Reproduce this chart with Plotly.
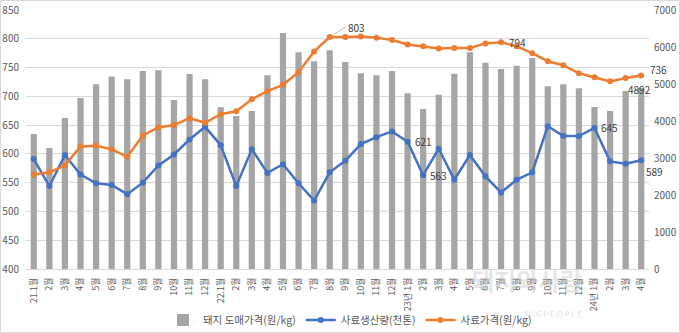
import plotly.graph_objects as go

# Month labels (Jan 2021 - Apr 2024)
month_labels = (
    ["21.1월"] + [f"{m}월" for m in range(2, 13)]
    + ["22.1월"] + [f"{m}월" for m in range(2, 13)]
    + ["23년 1월"] + [f"{m}월" for m in range(2, 13)]
    + ["24년 1월", "2월", "3월", "4월"]
)

# Pork wholesale price (won/kg) - right axis
pork_price = [3650, 3270, 4080, 4620, 4990, 5200, 5130, 5350, 5370, 4570, 5270, 5130,
              4370, 4135, 4270, 5234, 6378, 5856, 5613, 5910, 5595, 5288, 5234, 5351,
              4748, 4324, 4712, 5275, 5856, 5577, 5405, 5495, 5703, 4937, 4991, 4883,
              4378, 4270, 4811, 4892]

# Feed production (thousand tons) - left axis
feed_prod = [591, 544, 598, 564, 549, 546, 530, 550, 580, 599, 625, 647,
             615, 544, 608, 567, 582, 549, 519, 568, 588, 617, 629, 639,
             621, 563, 609, 555, 598, 561, 533, 555, 568, 648, 631, 631,
             645, 587, 583, 589]

# Feed price (won/kg) - left axis
feed_price = [564, 568, 580, 613, 614, 608, 595, 632, 646, 650, 662, 654,
              669, 674, 695, 709, 720, 742, 778, 803, 803, 804, 802, 798,
              790, 787, 783, 784, 784, 792, 794, 787, 775, 761, 754, 740,
              733, 726, 732, 736]

x = list(range(len(month_labels)))

FONT = "Noto Sans CJK KR"
TXT = "#595959"
GRID = "#d9d9d9"
BLUE = "#4472c4"
ORANGE = "#ed7d31"
GRAY = "#a5a5a5"

fig = go.Figure()

fig.add_trace(go.Bar(
    x=x, y=pork_price, name="돼지 도매가격(원/kg)",
    marker=dict(color=GRAY, line=dict(width=0)),
    yaxis="y", width=0.4,
))
fig.add_trace(go.Scatter(
    x=x, y=feed_prod, name="사료생산량(천톤)", mode="lines+markers",
    line=dict(color=BLUE, width=2.5), marker=dict(color=BLUE, size=6),
    yaxis="y2",
))
fig.add_trace(go.Scatter(
    x=x, y=feed_price, name="사료가격(원/kg)", mode="lines+markers",
    line=dict(color=ORANGE, width=2.5), marker=dict(color=ORANGE, size=6),
    yaxis="y2",
))

ann = []
lab_font = dict(family=FONT, size=10, color="#404040")

def right_label(i, series, yref, xshift=5, yshift=0):
    ann.append(dict(x=x[i], y=series[i], xref="x", yref=yref, text=str(series[i]),
                    showarrow=False, xanchor="left", yanchor="middle",
                    xshift=xshift, yshift=yshift, font=lab_font))

# feed production labels
for i in (24, 25, 36):
    right_label(i, feed_prod, "y2", xshift=5)
right_label(39, feed_prod, "y2", xshift=3, yshift=-11)
# feed price labels
right_label(30, feed_price, "y2", xshift=6)
right_label(39, feed_price, "y2", xshift=7, yshift=6)
# callout on the feed price peak
ann.append(dict(x=x[19], y=feed_price[19], xref="x", yref="y2", text=str(feed_price[19]),
                showarrow=True, arrowhead=0, arrowwidth=0.8, arrowcolor="#a6a6a6",
                ax=16, ay=-10, xanchor="left", yanchor="middle", font=lab_font))
# pork price label on the last bar
ann.append(dict(x=x[39], y=pork_price[39], xref="x", yref="y", text=str(pork_price[39]),
                showarrow=False, xanchor="center", yanchor="middle", xshift=-2, yshift=-1,
                font=lab_font))

# watermark
ann.append(dict(x=0.895, y=-0.115, xref="paper", yref="paper", text="<b>돼지와사람</b>",
                showarrow=False, font=dict(family=FONT, size=24, color="rgba(200,200,200,0.45)")))
ann.append(dict(x=0.895, y=-0.2, xref="paper", yref="paper", text="P I G P E O P L E",
                showarrow=False, font=dict(family=FONT, size=8, color="rgba(200,200,200,0.55)")))

ML, MR, MT, MB = 26, 31, 10, 64
W, H = 680, 333
pw, ph = W - ML - MR, H - MT - MB

fig.update_layout(
    width=W, height=H,
    margin=dict(l=ML, r=MR, t=MT, b=MB, autoexpand=False),
    paper_bgcolor="white", plot_bgcolor="white",
    font=dict(family=FONT, size=10, color=TXT),
    bargap=0.6,
    showlegend=True,
    legend=dict(orientation="h", x=0.52, xanchor="center", yref="container",
                y=(H - 320) / H, yanchor="middle",
                font=dict(family=FONT, size=10.5, color=TXT), itemwidth=30,
                traceorder="normal", bgcolor="rgba(0,0,0,0)"),
    xaxis=dict(range=[-0.5, len(x) - 0.5], tickmode="array", tickvals=x,
               ticktext=month_labels, tickangle=-90, showgrid=False, zeroline=False,
               showline=True, linecolor=GRID, ticks="", ticklabelstandoff=4,
               automargin=False, tickfont=dict(family=FONT, size=9, color=TXT)),
    yaxis=dict(range=[0, 7000], dtick=1000, side="right", showgrid=False, zeroline=False,
               ticks="", ticklabelstandoff=4, automargin=False,
               tickfont=dict(family=FONT, size=10, color=TXT)),
    yaxis2=dict(range=[400, 850], dtick=50, side="left", overlaying="y", showgrid=True,
                gridcolor=GRID, gridwidth=1, zeroline=False, ticks="", ticklabelstandoff=6,
                automargin=False, tickfont=dict(family=FONT, size=10, color=TXT)),
    annotations=ann,
    shapes=[dict(type="rect", xref="paper", yref="paper",
                 x0=(0.5 - ML) / pw, x1=(W - 0.5 - ML) / pw,
                 y0=(H - MB - (H - 0.5)) / ph, y1=(H - MB - 0.5) / ph,
                 line=dict(color=GRID, width=1), fillcolor="rgba(0,0,0,0)", layer="below")],
)

fig.write_html("out.html")
